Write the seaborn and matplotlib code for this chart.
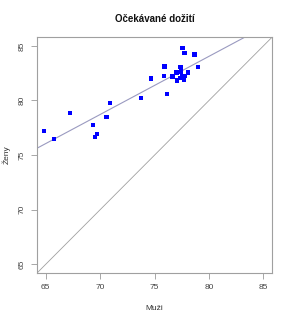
import numpy as np
import pandas as pd
import matplotlib
matplotlib.use("Agg")
import matplotlib.pyplot as plt
import seaborn as sns

muzi = [64.85, 65.76, 67.26, 69.36, 69.51, 69.73, 70.58, 70.91, 73.72, 74.63,
        75.91, 75.88, 76.13, 76.65, 77.01, 77.04, 77.38, 77.41, 77.32, 77.53,
        77.56, 77.74, 77.68, 77.80, 78.08, 78.66, 78.99]
zeny = [77.23, 76.46, 78.84, 77.74, 76.65, 76.89, 78.45, 79.79, 80.21, 82.01,
        83.11, 82.23, 80.58, 82.20, 82.56, 81.83, 83.05, 82.65, 82.07, 82.20,
        84.82, 84.33, 81.86, 82.23, 82.56, 84.21, 83.08]
ticks = [65, 70, 75, 80, 85]

df = pd.DataFrame({"Muži": muzi, "Ženy": zeny})

sns.set_style("white")
plt.rcParams["font.family"] = ["Liberation Sans", "DejaVu Sans"]

fig = plt.figure(figsize=(2.92, 3.2), dpi=100)
ax = fig.add_axes([0.127, 0.147, 0.805, 0.737])

slope, intercept = np.polyfit(df["Muži"], df["Ženy"], 1)
ax.axline((0, intercept), slope=slope, color="#9a9ac0", lw=0.8, zorder=1)
ax.axline((65, 65), slope=1, color="#a0a0a0", lw=0.6, zorder=1)

sns.scatterplot(data=df, x="Muži", y="Ženy", ax=ax, marker="s", s=9,
                color="#0000ff", edgecolor="none", linewidth=0, zorder=3)

ax.set_xlim(64.2, 85.8)
ax.set_ylim(64.2, 85.8)
ax.set_xticks(ticks)
ax.set_yticks(ticks)
ax.set_xticklabels([str(t) for t in ticks], fontsize=6, color="#444444")
ax.set_yticklabels([str(t) for t in ticks], fontsize=6, color="#444444",
                   rotation=90, va="center")
ax.tick_params(axis="both", direction="out", length=4, width=0.6,
               color="#999999", pad=4, bottom=True, left=True)
for sp in ax.spines.values():
    sp.set_color("#a0a0a0")
    sp.set_linewidth(0.8)

ax.set_xlabel("Muži", fontsize=6, color="#333333", labelpad=10)
ax.set_ylabel("Ženy", fontsize=6, color="#333333", labelpad=6)
ax.set_title("Očekávané dožití", fontsize=7, fontweight="bold", color="#111111", pad=11)

fig.savefig("out.png", dpi=100)
